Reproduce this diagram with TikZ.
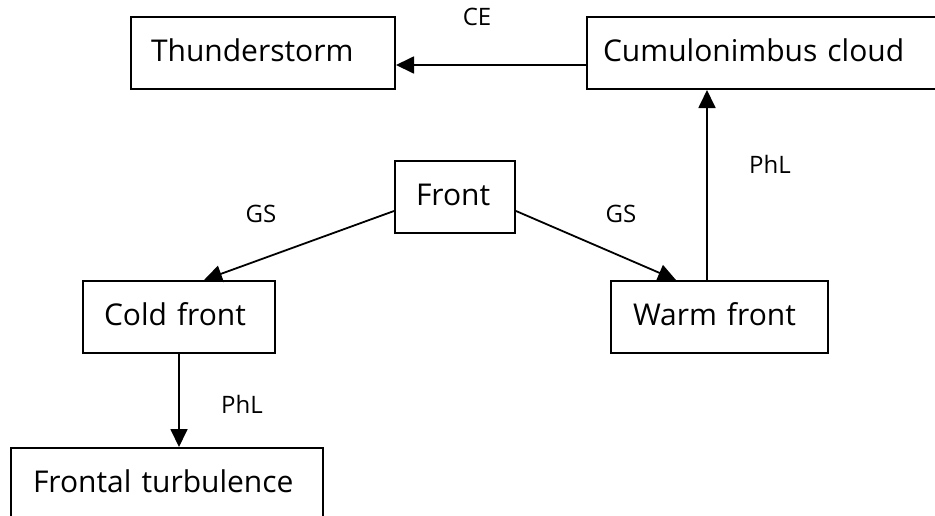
\documentclass[tikz,border=0pt]{standalone}
\usepackage{fontspec}
\setmainfont{Open Sans}
\usetikzlibrary{arrows.meta}
\begin{document}
\begin{tikzpicture}[x=1pt,y=-1pt,
  conceptbox/.style={draw, line width=2pt, anchor=north west, align=left,
    font=\fontsize{30}{34}\selectfont, text height=21.5pt, text depth=4pt,
    inner ysep=0pt, minimum height=72pt},
  relation/.style={line width=1.8pt, -{Triangle[length=18pt,width=17pt]}},
  edgelabel/.style={font=\fontsize{24}{28}\selectfont, text height=17pt, text depth=0pt, inner sep=0pt}]
  \useasboundingbox (0,0) rectangle (935,515);
  \clip (0,0) rectangle (935,515);
  \fill[white] (0,0) rectangle (935,515);

  % concepts
  \node[conceptbox, inner xsep=20pt, text width=224pt] (thunder) at (130,16) {Thunderstorm};
  \node[conceptbox, inner xsep=16pt, text width=348pt] (cumulo) at (586,16) {Cumulonimbus cloud};
  \node[conceptbox, inner xsep=21pt, text width=78pt] (front) at (394,160) {Front};
  \node[conceptbox, inner xsep=21pt, text width=150pt] (cold) at (82,280) {Cold front};
  \node[conceptbox, inner xsep=22pt, text width=173pt] (warm) at (610,280) {Warm front};
  \node[conceptbox, inner xsep=22pt, text width=268pt] (turb) at (10,447) {Frontal turbulence};

  % relations
  \draw[relation] ([yshift=-12pt]cumulo.west) -- ([yshift=-12pt]thunder.east);
  \draw[relation] ([yshift=-14pt]front.west) -- ([xshift=25pt]cold.north);
  \draw[relation] ([yshift=-14pt]front.east) -- ([xshift=-43.5pt]warm.north);
  \draw[relation] ([xshift=-12.5pt]warm.north) -- ([xshift=-12.5pt]warm.north |- cumulo.south);
  \draw[relation] (cold.south) -- (cold.south |- turb.north);

  % relation labels
  \node[edgelabel] (lce) at (477,17) {CE};
  \node[edgelabel] (lgs1) at (261,214) {GS};
  \node[edgelabel] (lgs2) at (621,214) {GS};
  \node[edgelabel] (lphl1) at (770,165) {PhL};
  \node[edgelabel] (lphl2) at (242,405) {PhL};
\end{tikzpicture}
\end{document}
